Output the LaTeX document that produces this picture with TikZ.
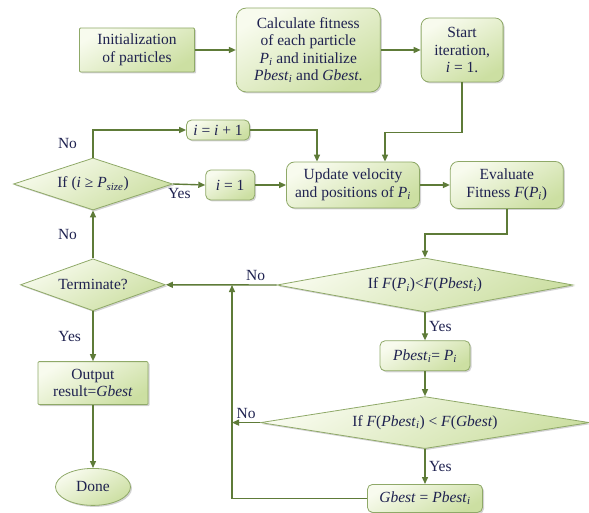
\documentclass[tikz,border=0pt]{standalone}
\usepackage{fontspec}
\setmainfont{Liberation Serif}
\usetikzlibrary{arrows.meta, positioning, shapes.geometric, shadows}

\definecolor{boxlight}{HTML}{F8FBEE}
\definecolor{boxdark}{HTML}{CCDFA2}
\definecolor{boxline}{HTML}{8FA968}
\definecolor{flowline}{HTML}{5E7B38}
\definecolor{inktext}{HTML}{1F2250}

\newcommand{\iv}[2]{\textit{#1}\textsubscript{\textit{#2}}}

\begin{document}
\begin{tikzpicture}[
  x=1pt, y=-1pt,
  every node/.style={font=\fontsize{15.5}{17.5}\selectfont, text=inktext},
  box/.style={rectangle, draw=boxline, line width=0.8pt, rounded corners=8pt, align=center, inner sep=2pt,
    top color=boxlight, bottom color=boxdark, shading angle=30,
    drop shadow={shadow xshift=1.5pt, shadow yshift=-1.5pt, opacity=0.35}},
  flat/.style={box, rounded corners=1pt},
  decision/.style={diamond, draw=boxline, line width=0.8pt, inner sep=0pt, align=center,
    top color=boxlight, bottom color=boxdark, shading angle=30,
    drop shadow={shadow xshift=1.5pt, shadow yshift=-1.5pt, opacity=0.35}},
  terminal/.style={ellipse, draw=boxline, line width=0.8pt, inner sep=0pt,
    top color=boxlight, bottom color=boxdark, shading angle=30,
    drop shadow={shadow xshift=1.5pt, shadow yshift=-1.5pt, opacity=0.35}},
  arrow/.style={-{Triangle[length=7pt, width=6pt]}, draw=flowline, line width=1.4pt}
]
\useasboundingbox (0,0) rectangle (589,513);

% Top row
\node[flat, minimum width=115pt, minimum height=44pt] (init) at (137,50) {Initialization\\of particles};
\node[box, rounded corners=10pt, minimum width=144pt, minimum height=84pt, right=41pt of init] (calc) {Calculate fitness\\of each particle\\\iv{P}{i} and initialize\\\iv{Pbest}{i} and \textit{Gbest}.};
\node[box, minimum width=82pt, minimum height=64pt, right=40pt of calc] (start) {Start\\iteration,\\\textit{i} = 1.};

% Update loop
\node[box, minimum width=133pt, minimum height=46pt] (upd) at (353,185) {Update velocity\\and positions of \iv{P}{i}};
\node[box, minimum width=113pt, minimum height=47pt, right=30pt of upd] (eval) {Evaluate\\Fitness \textit{F}(\iv{P}{i})};
\node[box, rounded corners=5pt, minimum width=49pt, minimum height=30pt, left=31pt of upd] (reset) {\textit{i} = 1};
\node[box, rounded corners=5pt, minimum width=63pt, minimum height=20pt] (inc) at (218,130) {\textit{i} = \textit{i} + 1};

% Left column
\node[decision, aspect=3.06, minimum width=159pt, minimum height=52pt] (chk) at (93,184) {If (\textit{i} ≥ \iv{P}{size})};
\node[decision, aspect=2.8, minimum width=145pt, minimum height=52pt, below=48pt of chk] (term) {Terminate?};
\node[flat, minimum width=110pt, minimum height=43pt, below=50pt of term] (out) {Output\\result=\textit{Gbest}};
\node[terminal, minimum width=75pt, minimum height=37pt, below=63pt of out] (done) {Done};

% Right column
\node[decision, aspect=5.5, minimum width=296pt, minimum height=54pt] (cmp1) at (425,285) {If \textit{F}(\iv{P}{i})<\textit{F}(\iv{Pbest}{i})};
\node[box, rounded corners=5pt, minimum width=90pt, minimum height=30pt, below=28pt of cmp1] (pb) {\iv{Pbest}{i}= \iv{P}{i}};
\node[decision, aspect=6.3, minimum width=329pt, minimum height=52pt, below=25pt of pb] (cmp2) {If \textit{F}(\iv{Pbest}{i}) < \textit{F}(\textit{Gbest})};
\node[box, rounded corners=5pt, minimum width=115pt, minimum height=28pt, below=35pt of cmp2] (gb) {\textit{Gbest} = \iv{Pbest}{i}};

\coordinate (jn) at (232,285);

% Connectors
\draw[arrow] (init) -- (calc);
\draw[arrow] (calc) -- (start);
\draw[arrow] (start.south) -- ++(0,50) -| ([xshift=32pt]upd.north);
\draw[arrow] (inc.east) -| ([xshift=-36pt]upd.north);
\draw[arrow] (chk.north) |- node[pos=0.25, left=12pt]{No} (inc.west);
\draw[arrow] (chk.east) -- node[pos=0.2, below]{Yes} (reset.west);
\draw[arrow] (reset) -- (upd);
\draw[arrow] (upd) -- (eval);
\draw[arrow] (eval.south) -- ++(0,25) -| (cmp1.north);
\draw[arrow] (cmp1.west) -- node[pos=0.19, above]{No} (term.east);
\draw[arrow] (cmp1.south) -- node[right]{Yes} (pb.north);
\draw[arrow] (pb) -- (cmp2);
\draw[arrow] (cmp2.west) -- node[above]{No} (cmp2.west -| jn);
\draw[arrow] (cmp2.south) -- node[right]{Yes} (gb.north);
\draw[arrow] (gb.west) -| (jn);
\draw[arrow] (term.north) -- node[left=12pt]{No} (chk.south);
\draw[arrow] (term.south) -- node[left=8pt]{Yes} (out.north);
\draw[arrow] (out) -- (done);

\end{tikzpicture}
\end{document}
